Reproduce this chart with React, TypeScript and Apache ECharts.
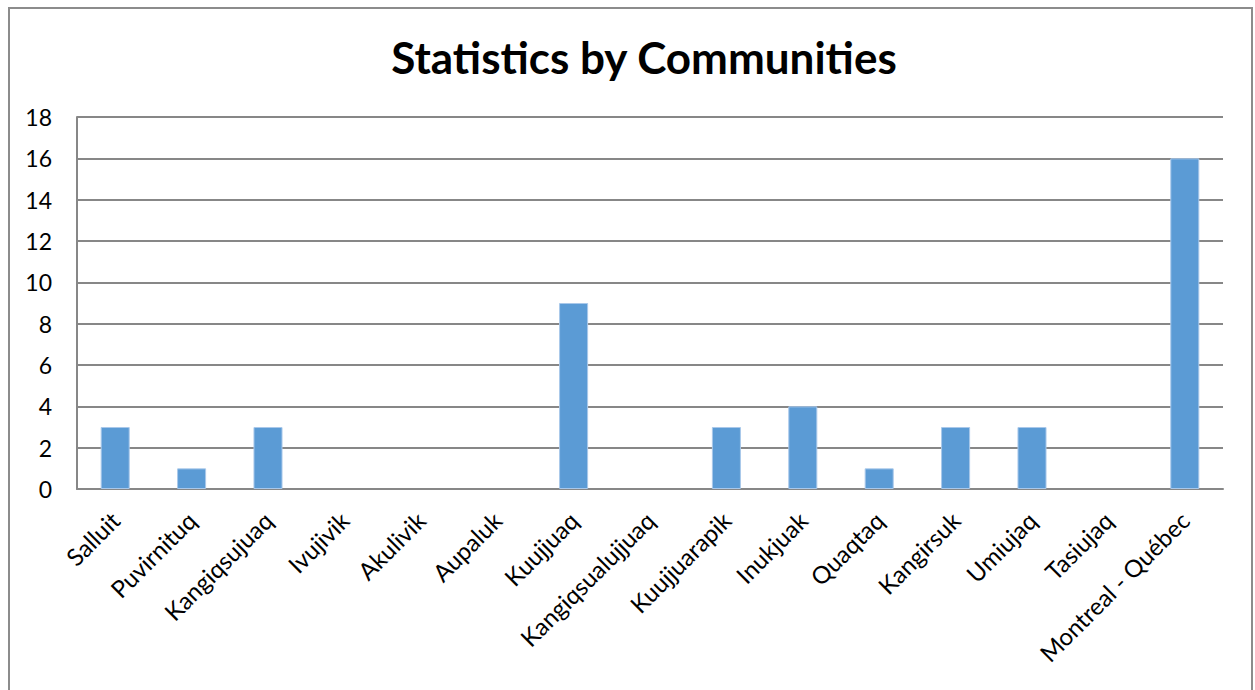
import React, { useEffect, useRef } from "react";
import * as echarts from "echarts";

const categories = [
  "Salluit", "Puvirnituq", "Kangiqsujuaq", "Ivujivik", "Akulivik", "Aupaluk",
  "Kuujjuaq", "Kangiqsualujjuaq", "Kuujjuarapik", "Inukjuak", "Quaqtaq",
  "Kangirsuk", "Umiujaq", "Tasiujaq", "Montreal - Québec",
];
const values = [3, 1, 3, 0, 0, 0, 9, 0, 3, 4, 1, 3, 3, 0, 16];
const title = "Statistics by Communities";

export default function App() {
  const ref = useRef<HTMLDivElement>(null);
  useEffect(() => {
    const chart = echarts.init(ref.current!, null, { renderer: "svg" });
    const font = "Lato, 'Open Sans', sans-serif";
    chart.setOption({
      animation: false,
      backgroundColor: "#ffffff",
      title: {
        text: title,
        left: 639,
        textAlign: "center",
        top: 30,
        textStyle: { fontFamily: font, fontWeight: "bold", fontSize: 44, color: "#000" },
      },
      graphic: [
        {
          type: "rect",
          shape: { x: 9, y: 8, width: 1243, height: 700 },
          style: { fill: "none", stroke: "#8c8c8c", lineWidth: 2 },
          silent: true,
        },
      ],
      grid: { left: 77, top: 117, right: 32, bottom: 201, containLabel: false },
      xAxis: {
        type: "category",
        data: categories,
        axisLine: { lineStyle: { color: "#878787", width: 2 } },
        axisTick: { show: false },
        axisLabel: {
          rotate: 45,
          interval: 0,
          fontFamily: font,
          fontSize: 24,
          color: "#000",
          margin: 27,
        },
      },
      yAxis: {
        type: "value",
        min: 0,
        max: 18,
        interval: 2,
        axisLine: { show: true, lineStyle: { color: "#878787", width: 2 } },
        axisTick: { show: false },
        splitLine: { lineStyle: { color: "#878787", width: 2 } },
        axisLabel: { fontFamily: font, fontSize: 23, color: "#000", margin: 25 },
      },
      series: [
        {
          type: "bar",
          data: values.map((v) => ({
            value: v,
            itemStyle: { borderWidth: v === 0 ? 0 : 1 },
          })),
          barWidth: "38%",
          itemStyle: { color: "#5B9BD5", borderColor: "#a9c8ea", borderWidth: 1 },
        },
      ],
    });
    return () => chart.dispose();
  }, []);
  return (
    <div
      ref={ref}
      style={{ position: "fixed", left: 0, top: 0, width: 1255, height: 690 }}
    />
  );
}
